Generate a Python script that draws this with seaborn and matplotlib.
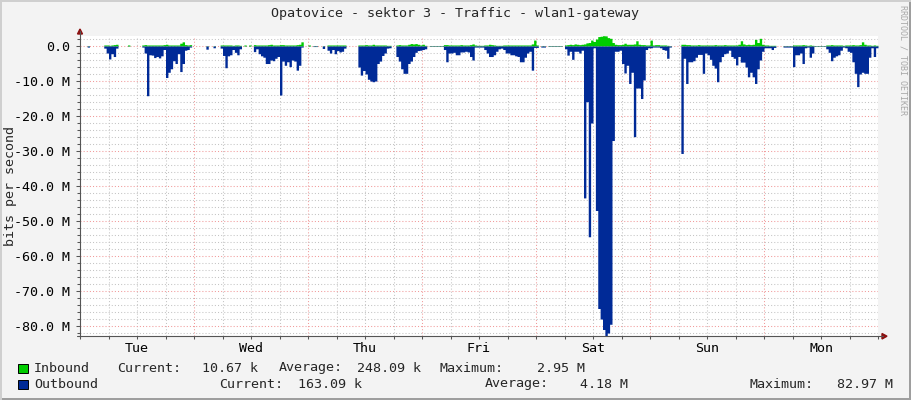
import numpy as np
import pandas as pd
import matplotlib.pyplot as plt
from matplotlib.lines import Line2D
from matplotlib.patches import Polygon, Rectangle
import seaborn as sns

N = np.nan

TITLE = "Opatovice - sektor 3 - Traffic - wlan1-gateway"
DAYS = ["Tue", "Wed", "Thu", "Fri", "Sat", "Sun", "Mon"]
Y_MAJOR = [0, -10, -20, -30, -40, -50, -60, -70, -80]

# traffic in Mbit/s, one value per 30 minutes, outbound drawn below zero
out_tue = [N, N, N, -0.3, N, N, N, N, N, N,
           -0.6, -2.0, -3.7, -2.2, -3.0, -0.6, N, N, N, N,
           -0.05, N, N, N, N, N, -0.3, -2.0, -14.2, -2.5,
           -2.6, -3.3, -3.0, -3.4, -2.8, -1.0, -9.0, -7.5, -6.5, -4.2,
           -5.0, -2.2, -7.3, -5.0, -1.2, -1.0, -0.3, N]
out_wed = [N, N, N, N, N, -0.9, N, N, -0.5, N,
           N, -0.6, -2.7, -6.2, -2.8, -2.5, -1.0, -1.8, -2.5, -0.8,
           N, -0.05, N, -0.05, N, -1.6, -0.8, -2.2, -2.8, -3.2,
           -5.0, -5.0, -4.0, -4.2, -3.5, -3.0, -14.0, -4.3, -5.5, -4.5,
           -5.9, -4.0, -4.3, -6.9, -5.5, -0.3, N, N]
out_thu = [-0.05, N, -0.15, -0.15, N, N, -0.7, N, -1.2, -2.0,
           -1.0, -2.2, -1.3, -1.7, -1.5, -0.6, N, N, N, N,
           N, -6.0, -8.3, -7.0, -8.0, -9.5, -10.0, -10.2, -10.0, -5.0,
           -4.3, -2.7, -2.0, -0.6, -0.5, N, N, -3.0, -4.3, -6.5,
           -7.8, -7.8, -5.0, -4.3, -3.0, -1.8, -1.3, -1.2]
out_fri = [-1.0, -0.8, N, -0.1, -0.1, -0.1, -0.1, -0.1, -0.1, -1.0,
           -4.5, -2.0, -2.0, -1.8, -2.5, -2.5, -1.7, -1.7, -1.5, -1.7,
           -3.0, -4.0, -0.3, -0.3, -0.3, -0.3, -1.0, -2.0, -3.0, -3.0,
           -2.5, -1.5, -0.8, -0.6, -1.0, -2.0, -2.0, -2.5, -2.5, -2.8,
           -3.0, -4.5, -4.5, -3.2, -2.0, -1.5, -6.9, -0.4]
out_sat = [-0.4, N, -0.3, -0.3, N, -0.1, -0.1, -0.1, -0.1, -0.1,
           -0.1, N, -0.8, -2.6, -1.5, -3.8, -1.5, -1.5, -2.0, -1.2,
           -43.4, -15.9, -54.5, -22.0, -0.5, -47.0, -75.0, -78.0, -81.0, -82.97,
           -82.0, -79.5, -27.0, -1.5, -1.5, -1.2, -5.0, -7.7, -5.5, -10.7,
           -7.5, -25.9, -12.0, -12.0, -15.0, -9.7, -1.0, -0.5]
out_sun = [-0.5, -0.3, -0.3, -0.3, -0.5, -1.0, -1.2, -3.5, -0.3, N,
           N, N, N, -30.7, -3.5, -10.7, -4.5, -4.5, -4.2, -3.2,
           -2.4, -2.4, -7.8, -2.0, -2.5, -3.8, -5.5, -6.3, -10.2, -4.5,
           -3.0, -2.2, -2.0, -1.2, -3.0, -3.5, -5.4, -3.0, -4.6, -4.6,
           -6.0, -8.8, -7.5, -8.8, -10.7, -6.5, -4.0, -1.5]
out_mon = [-0.5, -0.5, -0.5, -1.0, -0.4, N, N, N, -0.3, -0.3,
           -0.3, -0.3, -5.9, -2.5, -2.5, -2.0, -5.0, -0.5, -0.3, -3.2,
           -2.0, -0.1, -0.1, -0.1, -0.1, -0.1, -0.8, -1.8, -4.2, -3.2,
           -2.8, -2.5, -1.2, -0.3, -0.5, -1.5, -1.8, -4.5, -7.8, -11.6,
           -8.0, -7.5, -7.8, -7.8, -3.2, -0.5, -3.0, -0.5]

in_tue = [N, N, N, 0.1, N, N, N, N, N, N,
          0.3, 0.3, 0.2, 0.3, 0.4, 0.5, N, N, N, N,
          0.3, N, N, N, N, N, 0.3, 0.4, 0.3, 0.3,
          0.3, 0.3, 0.3, 0.3, 0.3, 0.4, 0.5, 0.3, 0.3, 0.3,
          0.3, 0.3, 0.8, 1.2, 0.4, 0.3, 0.4, N]
in_wed = [N, N, N, N, N, 0.1, N, N, 0.1, N,
          N, 0.3, 0.3, 0.3, 0.3, 0.3, 0.2, 0.3, 0.3, 0.2,
          N, 0.3, N, 0.3, N, 0.4, 0.3, 0.3, 0.3, 0.3,
          0.3, 0.4, 0.5, 0.3, 0.3, 0.3, 0.4, 0.4, 0.3, 0.3,
          0.3, 0.3, 0.3, 0.4, 0.5, 1.2, N, N]
in_thu = [0.3, N, 0.1, 0.1, N, N, 0.1, N, 0.3, 0.3,
          0.3, 0.3, 0.3, 0.3, 0.3, 0.3, N, N, N, N,
          N, 0.3, 0.3, 0.3, 0.4, 0.3, 0.3, 0.5, 0.3, 0.3,
          0.3, 0.3, 0.3, 0.2, 0.2, N, N, 0.3, 0.4, 0.3,
          0.3, 0.3, 0.5, 0.7, 0.6, 0.7, 0.5, 0.3]
in_fri = [0.5, 0.2, N, 0.1, 0.1, 0.1, 0.1, 0.1, 0.1, 0.4,
          0.4, 0.3, 0.3, 0.3, 0.3, 0.3, 0.4, 0.3, 0.3, 0.3,
          0.4, 0.6, 0.3, 0.2, 0.2, 0.2, 0.3, 0.3, 0.5, 0.4,
          0.3, 0.2, 0.2, 0.2, 0.3, 0.3, 0.3, 0.3, 0.3, 0.3,
          0.3, 0.3, 0.3, 0.3, 0.3, 0.3, 0.6, 1.7]
in_sat = [0.3, N, 0.1, 0.1, N, 0.1, 0.1, 0.1, 0.1, 0.1,
          0.1, N, 0.3, 0.4, 0.5, 0.4, 0.6, 0.5, 0.4, 0.5,
          0.6, 0.9, 1.0, 1.7, 1.3, 2.0, 2.7, 2.8, 2.95, 2.9,
          2.4, 2.2, 1.0, 0.5, 0.4, 0.4, 0.5, 0.8, 0.5, 0.5,
          0.5, 0.6, 1.5, 0.5, 0.4, 0.4, 0.3, 0.3]
in_sun = [1.7, 0.3, 0.4, 0.4, 0.3, 0.3, 0.3, 0.2, 0.1, N,
          N, N, N, 0.5, 0.5, 0.4, 0.4, 0.3, 0.3, 0.3,
          0.4, 0.3, 0.3, 0.3, 0.3, 0.3, 0.3, 0.4, 0.3, 0.3,
          0.3, 0.4, 0.3, 0.3, 0.3, 0.3, 0.3, 0.5, 1.5, 0.6,
          0.4, 0.5, 0.4, 0.5, 1.9, 1.0, 2.2, 0.5]
in_mon = [0.3, 0.3, 0.2, 0.2, 0.2, N, N, N, 0.1, 0.1,
          0.1, 0.1, 0.3, 0.3, 0.3, 0.3, 0.4, 0.3, 0.2, 0.3,
          0.2, 0.1, 0.1, 0.1, 0.1, 0.1, 0.3, 0.3, 0.4, 0.3,
          0.3, 0.3, 0.3, 0.2, 0.3, 0.3, 0.3, 0.4, 0.3, 0.3,
          0.4, 1.2, 0.5, 0.3, 0.3, 0.2, 0.3, 0.2]

legend_rows = [
    ("Inbound", "#00CC00", [("Current:", 117, "l"), ("10.67 k", 258, "r"),
                            ("Average:", 279, "l"), ("248.09 k", 421, "r"),
                            ("Maximum:", 440, "l"), ("2.95 M", 585, "r")]),
    ("Outbound", "#002A97", [("Current:", 219, "l"), ("163.09 k", 362, "r"),
                             ("Average:", 485, "l"), ("4.18 M", 628, "r"),
                             ("Maximum:", 749, "l"), ("82.97 M", 893, "r")]),
]

outbound = out_tue + out_wed + out_thu + out_fri + out_sat + out_sun + out_mon
inbound = in_tue + in_wed + in_thu + in_fri + in_sat + in_sun + in_mon
df = pd.DataFrame({"hour": np.arange(len(outbound)) * 0.5,
                   "inbound": inbound, "outbound": outbound})

sns.set_theme(style="white")
plt.rcParams["font.family"] = ["DejaVu Sans Mono"]
FS = 9.6

W, H = 911, 400
BACK = "#F3F3F3"
AXIS = "#555555"
ARROW = "#8B1010"
GRID = "#C4C4C4"
MGRID = "#F19A9A"


def fx(px):
    return px / W


def fy(py):
    return 1 - py / H


fig = plt.figure(figsize=(W / 100, H / 100), dpi=100, facecolor=BACK)
ax = fig.add_axes([fx(80), fy(336.4), fx(878) - fx(80), fy(35.7) - fy(336.4)])
ax.set_facecolor("white")

# each sample is a 30 min column (rrdtool AREA), gaps stay empty
edges = np.append(df["hour"].to_numpy(), 168.0)
for col, color in [("inbound", "#00CC00"), ("outbound", "#002A97")]:
    vals = df[col].fillna(0).to_numpy()
    ax.fill_between(edges, np.append(vals, vals[-1]), 0, step="post",
                    color=color, lw=0, zorder=2)
sns.despine(ax=ax, left=True, bottom=True)

ax.set_xlim(0, 168)
ax.set_ylim(-82.97, 2.95)

dots = (0, (1, 2))
for h in range(6, 168, 6):
    if h % 24:
        ax.axvline(h, color=GRID, lw=0.75, ls=dots, zorder=1)
for h in range(24, 169, 24):
    ax.axvline(h, color=MGRID, lw=0.75, ls=dots, zorder=1)
for v in range(-82, 3, 2):
    if v % 10:
        ax.axhline(v, color=GRID, lw=0.75, ls=dots, zorder=1)
for v in Y_MAJOR:
    ax.axhline(v, color=MGRID, lw=0.75, ls=dots, zorder=1)

ax.set_yticks(Y_MAJOR, ["0.0" if v == 0 else f"{v:.1f} M" for v in Y_MAJOR])
ax.set_yticks(range(-82, 3, 2), minor=True)
ax.set_xticks([12 + 24 * i for i in range(7)], DAYS)
ax.set_xticks(range(0, 169, 6), minor=True)
ax.tick_params(axis="y", which="major", length=3, width=0.75, color=AXIS, pad=4,
               labelsize=FS, labelcolor="black", left=True)
ax.tick_params(axis="y", which="minor", length=2, width=0.75, color=AXIS, left=True)
ax.tick_params(axis="x", which="both", length=2, width=0.75, color=AXIS, pad=2,
               labelsize=FS, labelcolor="black", bottom=True)

# axes with arrows
fig.add_artist(Line2D([fx(80), fx(80)], [fy(337), fy(31)], color=AXIS, lw=0.8))
fig.add_artist(Line2D([fx(77), fx(883)], [fy(336.4), fy(336.4)], color=AXIS, lw=0.8))
fig.add_artist(Polygon([(fx(77.5), fy(34)), (fx(82.5), fy(34)), (fx(80), fy(29))],
                       closed=True, color=ARROW, transform=fig.transFigure))
fig.add_artist(Polygon([(fx(882), fy(333.5)), (fx(882), fy(339)), (fx(887), fy(336.2))],
                       closed=True, color=ARROW, transform=fig.transFigure))

# frame shading
fig.add_artist(Rectangle((0, 0), 1, 1 - fy(2.5), color="#9E9E9E", transform=fig.transFigure, lw=0))
fig.add_artist(Rectangle((fx(908.5), 0), 1, 1, color="#9E9E9E", transform=fig.transFigure, lw=0))
fig.add_artist(Rectangle((0, fy(2)), 1, 1, color="#CFCFCF", transform=fig.transFigure, lw=0))
fig.add_artist(Rectangle((0, 0), fx(2), 1, color="#CFCFCF", transform=fig.transFigure, lw=0))

fig.text(fx(455), fy(14), TITLE, ha="center", va="center", fontsize=FS)
fig.text(fx(11), fy(186), "bits per second", rotation=90, ha="center", va="center", fontsize=FS)
fig.text(fx(903), fy(60), "RRDTOOL / TOBI OETIKER", rotation=270, ha="center",
         va="center", fontsize=6, color="#A8A8A8")

for i, (name, col, items) in enumerate(legend_rows):
    yc = 368 + 16 * i
    fig.add_artist(Rectangle((fx(17.5), fy(yc + 4.5)), fx(10), 9 / H, facecolor=col,
                             edgecolor="black", lw=0.7, transform=fig.transFigure))
    fig.text(fx(34), fy(yc), name, ha="left", va="center", fontsize=FS)
    for txt, xp, al in items:
        fig.text(fx(xp), fy(yc), txt, ha="left" if al == "l" else "right",
                 va="center", fontsize=FS)

fig.savefig("out.png", dpi=100, facecolor=BACK)
